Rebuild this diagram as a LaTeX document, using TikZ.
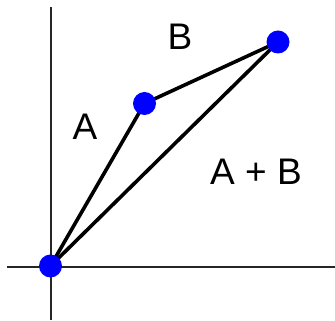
\documentclass[tikz,border=0pt]{standalone}
\usepackage{fontspec}
\setmainfont{Liberation Sans}
\usepackage{tikz}
\usetikzlibrary{positioning}
\definecolor{dotblue}{HTML}{0000FF}

\begin{document}
\begin{tikzpicture}[x=1pt,y=1pt, every node/.style={font=\fontsize{37}{44}\selectfont,inner sep=0pt},
  dot/.style={circle,fill=dotblue,inner sep=0pt,minimum size=23pt},
  axis/.style={line width=2pt,black!85},
  vec/.style={line width=3.6pt,black}]
\useasboundingbox (0,0) rectangle (335,321);
% axes
\coordinate (ytop) at (50.7,314);
\coordinate (ybot) at (50.7,1);
\coordinate (xl) at (7,53.7);
\coordinate (xr) at (335,53.7);
\draw[axis] (ybot)--(ytop);
\draw[axis] (xl)--(xr);
% points
\coordinate (o) at (50.5,55);
\coordinate (a) at (144.5,217.5);
\coordinate (b) at (278,279);
\draw[vec] (o)--(a);
\draw[vec] (a)--(b);
\draw[vec] (o)--(b);
\node[dot] (odot) at (o) {};
\node[dot] (adot) at (a) {};
\node[dot] (bdot) at (b) {};
% labels
\node (la) at (85,194.5) {A};
\node (lb) at (180,284.5) {B};
\node (lab) at (256,149.5) {A + B};
\end{tikzpicture}
\end{document}
